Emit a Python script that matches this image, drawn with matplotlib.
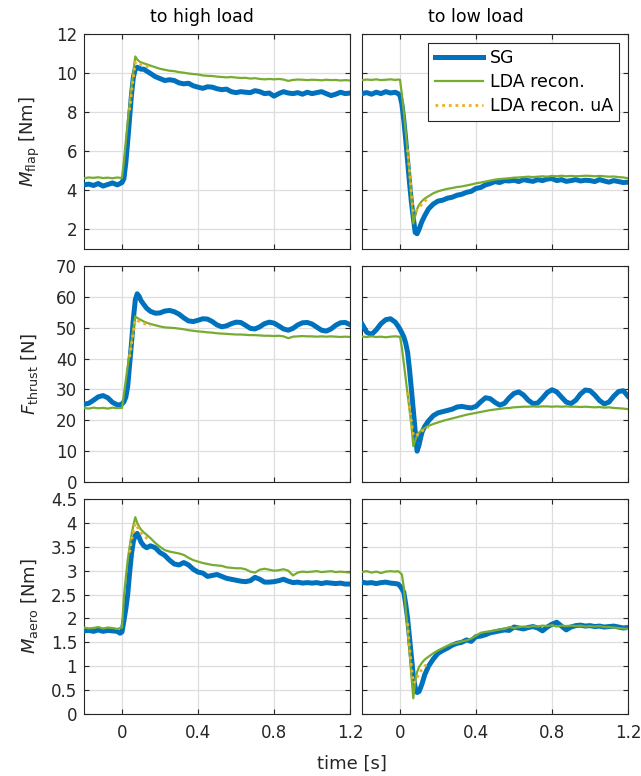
import matplotlib
matplotlib.use("Agg")
import matplotlib.pyplot as plt
from matplotlib.lines import Line2D

plt.rcParams['font.family'] = ['DejaVu Sans']
plt.rcParams['mathtext.fontset'] = 'dejavusans'

# ---------------------------------------------------------------- time base [s]
t = [-0.2, -0.175, -0.15, -0.125, -0.1, -0.075, -0.05, -0.025, -0.01, 0.0,
     0.01, 0.02, 0.03, 0.04, 0.05, 0.06, 0.07, 0.08, 0.09, 0.1,
     0.115, 0.13, 0.15,
     0.175, 0.2, 0.225, 0.25, 0.275, 0.3, 0.325, 0.35, 0.375, 0.4,
     0.425, 0.45, 0.475, 0.5, 0.525, 0.55, 0.575, 0.6, 0.625, 0.65,
     0.675, 0.7, 0.725, 0.75, 0.775, 0.8, 0.825, 0.85, 0.875, 0.9,
     0.925, 0.95, 0.975, 1.0, 1.025, 1.05, 1.075, 1.1, 1.125, 1.15, 1.175, 1.2]

# unsteady-aero reconstruction is only shown around the load step
t_ua = [0.04, 0.05, 0.06, 0.07, 0.08, 0.09, 0.1, 0.115, 0.13, 0.15]

# ---------------------------------------------------------------- flap moment [Nm]
mflap_hi_sg = [4.28, 4.32, 4.25, 4.35, 4.22, 4.30, 4.38, 4.28, 4.35, 4.40,
               4.6, 5.4, 6.5, 7.7, 8.9, 9.8, 10.2, 10.3, 10.25, 10.2,
               10.2, 10.1, 9.98,
               9.82, 9.72, 9.62, 9.66, 9.62, 9.5, 9.45, 9.48, 9.35, 9.28,
               9.22, 9.3, 9.28, 9.2, 9.15, 9.18, 9.05, 9.0, 9.05, 9.02,
               9.0, 9.1, 9.05, 8.95, 8.98, 8.82, 8.95, 9.05, 8.98, 8.95,
               9.0, 8.92, 9.02, 8.95, 9.0, 9.05, 8.95, 8.85, 8.92, 9.02, 8.95, 8.98]
mflap_hi_lda = [4.62, 4.66, 4.64, 4.67, 4.63, 4.65, 4.62, 4.66, 4.64, 4.65,
                5.5, 6.5, 7.5, 8.4, 9.3, 10.1, 10.85, 10.7, 10.6, 10.55,
                10.5, 10.45, 10.38,
                10.3, 10.22, 10.17, 10.12, 10.1, 10.05, 10.02, 9.98, 9.95, 9.93,
                9.88, 9.86, 9.85, 9.82, 9.8, 9.78, 9.8, 9.77, 9.75, 9.76,
                9.72, 9.74, 9.7, 9.68, 9.7, 9.68, 9.7, 9.67, 9.6, 9.65,
                9.67, 9.66, 9.64, 9.66, 9.65, 9.63, 9.66, 9.64, 9.65, 9.62, 9.64, 9.62]
mflap_hi_ua = [8.1, 9.0, 9.8, 10.55, 10.58, 10.5, 10.44, 10.38, 10.34, 10.3]

mflap_lo_sg = [8.95, 9.0, 8.92, 9.02, 8.95, 9.05, 8.98, 9.02, 8.95, 8.85,
               8.4, 7.6, 6.6, 5.5, 4.4, 3.4, 2.6, 1.85, 1.78, 2.0,
               2.4, 2.7, 3.05,
               3.3, 3.45, 3.5, 3.6, 3.65, 3.75, 3.8, 3.9, 3.95, 4.1,
               4.15, 4.28, 4.35, 4.45, 4.4, 4.5, 4.48, 4.52, 4.45, 4.55,
               4.5, 4.46, 4.55, 4.5, 4.58, 4.6, 4.5, 4.55, 4.46, 4.5,
               4.55, 4.48, 4.52, 4.5, 4.45, 4.55, 4.48, 4.42, 4.5, 4.45, 4.4, 4.42]
mflap_lo_lda = [9.64, 9.67, 9.65, 9.68, 9.64, 9.66, 9.68, 9.65, 9.67, 9.66,
                8.9, 8.0, 7.0, 6.0, 4.9, 3.6, 2.3, 2.7, 3.05, 3.25,
                3.45, 3.58, 3.7,
                3.85, 3.95, 4.02, 4.08, 4.12, 4.17, 4.2, 4.25, 4.3, 4.36,
                4.4, 4.45, 4.5, 4.55, 4.58, 4.6, 4.62, 4.65, 4.66, 4.68,
                4.7, 4.68, 4.7, 4.72, 4.7, 4.74, 4.72, 4.75, 4.72, 4.74,
                4.72, 4.73, 4.75, 4.74, 4.72, 4.74, 4.72, 4.7, 4.71, 4.68, 4.66, 4.62]
mflap_lo_ua = [6.1, 5.0, 3.9, 2.85, 2.9, 3.0, 3.1, 3.3, 3.45, 3.6]

# ---------------------------------------------------------------- thrust [N]
fthr_hi_sg = [25.2, 25.5, 26.5, 27.6, 28.0, 27.3, 25.8, 25.0, 25.0, 25.3,
              26.0, 27.5, 31.0, 38.0, 45.0, 53.0, 59.0, 61.0, 60.2, 58.8,
              57.5, 56.3, 55.3,
              54.7, 54.8, 55.4, 55.6, 55.2, 54.4, 53.2, 52.2, 52.0, 52.4,
              52.9, 52.8, 52.0, 50.9, 50.3, 50.6, 51.3, 51.8, 51.7, 50.8,
              49.8, 49.6, 50.3, 51.3, 51.8, 51.5, 50.6, 49.6, 49.2, 49.8,
              50.9, 51.6, 51.7, 51.2, 50.2, 49.2, 48.9, 49.6, 50.8, 51.6, 51.7, 51.0]
fthr_hi_lda = [24.0, 23.8, 24.1, 23.9, 24.0, 23.8, 24.1, 23.9, 24.0, 24.0,
               28.5, 33.0, 37.5, 41.5, 45.5, 49.8, 53.6, 53.2, 52.8, 52.5,
               52.0, 51.6, 51.2,
               50.8, 50.4, 50.1, 50.0, 49.9, 49.7, 49.5, 49.2, 49.0, 48.8,
               48.7, 48.5, 48.4, 48.2, 48.1, 48.0, 47.9, 47.8, 47.8, 47.7,
               47.6, 47.6, 47.5, 47.4, 47.4, 47.3, 47.4, 47.2, 46.6, 47.1,
               47.2, 47.3, 47.2, 47.2, 47.1, 47.2, 47.1, 47.2, 47.1, 47.0, 47.1, 47.0]
fthr_hi_ua = [40.5, 44.5, 48.8, 52.6, 52.4, 52.1, 51.8, 51.4, 51.0, 50.7]

fthr_lo_sg = [51.2, 48.5, 47.8, 49.3, 51.3, 52.6, 52.9, 51.8, 50.5, 49.5,
              48.3, 47.0, 45.0, 42.0, 36.5, 30.0, 23.3, 16.5, 10.0, 12.0,
              16.0, 18.0, 19.8,
              21.5, 22.4, 22.8, 23.2, 23.6, 24.3, 24.5, 24.2, 24.0, 24.5,
              26.0, 27.3, 27.0, 25.8, 24.9, 25.5, 27.3, 28.7, 29.2, 28.2,
              26.5, 25.4, 25.6, 27.2, 29.0, 29.9, 29.2, 27.5, 25.9, 25.4,
              26.5, 28.5, 29.8, 29.6, 28.2, 26.4, 25.3, 25.9, 27.8, 29.3, 29.6, 27.8]
fthr_lo_lda = [47.1, 47.0, 47.2, 47.0, 47.1, 46.9, 47.1, 47.2, 47.1, 47.1,
               43.5, 38.5, 33.5, 28.5, 23.5, 18.5, 11.6, 13.5, 15.0, 16.0,
               16.8, 17.5, 18.2,
               18.8, 19.3, 19.8, 20.2, 20.6, 21.0, 21.4, 21.8, 22.1, 22.4,
               22.7, 23.0, 23.3, 23.5, 23.7, 23.9, 24.0, 24.2, 24.3, 24.4,
               24.4, 24.5, 24.4, 24.5, 24.5, 24.4, 24.5, 24.4, 24.5, 24.4,
               24.4, 24.3, 24.4, 24.3, 24.2, 24.3, 24.1, 24.2, 24.0, 23.9, 23.8, 23.6]
fthr_lo_ua = [29.0, 24.0, 19.5, 15.2, 14.8, 15.3, 15.8, 16.5, 17.1, 17.8]

# ---------------------------------------------------------------- aerodynamic moment [Nm]
maero_hi_sg = [1.74, 1.75, 1.73, 1.76, 1.73, 1.75, 1.74, 1.73, 1.69, 1.72,
               1.95, 2.2, 2.5, 2.95, 3.35, 3.62, 3.74, 3.78, 3.7, 3.6,
               3.52, 3.48, 3.52,
               3.48, 3.38, 3.32, 3.22, 3.14, 3.12, 3.17, 3.12, 3.03, 2.97,
               2.95, 2.88, 2.9, 2.92, 2.88, 2.84, 2.82, 2.8, 2.78, 2.77,
               2.79, 2.86, 2.82, 2.76, 2.76, 2.77, 2.79, 2.82, 2.78, 2.75,
               2.76, 2.74, 2.75, 2.74, 2.75, 2.73, 2.75, 2.74, 2.73, 2.74, 2.72, 2.72]
maero_hi_lda = [1.81, 1.79, 1.8, 1.82, 1.79, 1.81, 1.8, 1.78, 1.8, 1.81,
                2.45, 2.85, 3.22, 3.5, 3.75, 3.95, 4.12, 4.0, 3.92, 3.86,
                3.8, 3.75, 3.68,
                3.58, 3.5, 3.43, 3.4, 3.38, 3.36, 3.33, 3.27, 3.22, 3.19,
                3.16, 3.14, 3.12, 3.11, 3.1, 3.07, 3.06, 3.05, 3.05, 3.03,
                2.98, 2.96, 3.02, 3.04, 3.02, 3.0, 3.01, 3.03, 3.0, 2.9,
                2.96, 2.98, 2.97, 2.98, 2.99, 2.97, 2.98, 2.99, 2.97, 2.98, 2.97, 2.96]
maero_hi_ua = [3.38, 3.64, 3.82, 3.99, 3.92, 3.85, 3.79, 3.73, 3.68, 3.63]

maero_lo_sg = [2.76, 2.74, 2.75, 2.73, 2.75, 2.76, 2.74, 2.73, 2.72, 2.68,
               2.62, 2.55, 2.3, 2.0, 1.6, 1.2, 0.8, 0.55, 0.45, 0.47,
               0.62, 0.82, 1.0,
               1.15, 1.27, 1.33, 1.38, 1.44, 1.48, 1.5, 1.55, 1.52, 1.62,
               1.63, 1.66, 1.7, 1.72, 1.74, 1.76, 1.75, 1.82, 1.8, 1.78,
               1.81, 1.83, 1.8, 1.74, 1.82, 1.88, 1.92, 1.84, 1.76, 1.82,
               1.85, 1.86, 1.84, 1.85, 1.83, 1.84, 1.82, 1.83, 1.84, 1.82, 1.8, 1.81]
maero_lo_lda = [2.97, 2.99, 2.96, 2.98, 2.95, 2.98, 2.99, 2.98, 2.99, 2.96,
                2.92, 2.65, 2.2, 1.8, 1.3, 0.8, 0.33, 0.7, 0.88, 0.98,
                1.07, 1.14, 1.2,
                1.27, 1.33, 1.38, 1.43, 1.47, 1.49, 1.52, 1.54, 1.58, 1.64,
                1.7, 1.72, 1.73, 1.75, 1.77, 1.78, 1.82, 1.8, 1.82, 1.83,
                1.82, 1.84, 1.83, 1.85, 1.84, 1.86, 1.83, 1.85, 1.84, 1.85,
                1.84, 1.85, 1.83, 1.84, 1.83, 1.84, 1.82, 1.82, 1.81, 1.8, 1.79, 1.78]
maero_lo_ua = [1.9, 1.4, 1.0, 0.65, 0.68, 0.76, 0.84, 0.93, 1.0, 1.08]

# ---------------------------------------------------------------- labels / limits
col_titles = ["to high load", "to low load"]
row_labels = [r"$M_{\mathrm{flap}}$ [Nm]", r"$F_{\mathrm{thrust}}$ [N]",
              r"$M_{\mathrm{aero}}$ [Nm]"]
row_ylim = [(1, 12), (0, 70), (0, 4.5)]
row_yticks = [[2, 4, 6, 8, 10, 12],
              [0, 10, 20, 30, 40, 50, 60, 70],
              [0, 0.5, 1, 1.5, 2, 2.5, 3, 3.5, 4, 4.5]]
row_yticklabels = [["2", "4", "6", "8", "10", "12"],
                   ["0", "10", "20", "30", "40", "50", "60", "70"],
                   ["0", "0.5", "1", "1.5", "2", "2.5", "3", "3.5", "4", "4.5"]]
xticks = [0, 0.4, 0.8, 1.2]
xticklabels = ["0", "0.4", "0.8", "1.2"]
legend_labels = ["SG", "LDA recon.", "LDA recon. uA"]

panels = [
    [(mflap_hi_sg, mflap_hi_lda, mflap_hi_ua), (mflap_lo_sg, mflap_lo_lda, mflap_lo_ua)],
    [(fthr_hi_sg, fthr_hi_lda, fthr_hi_ua), (fthr_lo_sg, fthr_lo_lda, fthr_lo_ua)],
    [(maero_hi_sg, maero_hi_lda, maero_hi_ua), (maero_lo_sg, maero_lo_lda, maero_lo_ua)],
]

# ---------------------------------------------------------------- style
C_SG = "#0072BD"
C_LDA = "#77AC30"
C_UA = "#EDB120"
AX_COL = "#262626"
GRID_COL = "#dedede"
UA_DASH = (0, (1.0, 1.4))

W, H = 641, 776
fig = plt.figure(figsize=(W / 100, H / 100), dpi=100)

col_px = [(84, 350), (362, 628)]
row_px = [(34, 249), (266, 482), (499, 714)]

axes = []
for r in range(3):
    for c in range(2):
        x0, x1 = col_px[c]
        y0, y1 = row_px[r]
        ax = fig.add_axes([x0 / W, 1 - y1 / H, (x1 - x0) / W, (y1 - y0) / H])
        sg, lda, ua = panels[r][c]
        ax.plot(t, sg, color=C_SG, lw=3.6, solid_joinstyle="round", zorder=3)
        ax.plot(t, lda, color=C_LDA, lw=1.6, zorder=4)
        ax.plot(t_ua, ua, color=C_UA, lw=2.0, linestyle=UA_DASH,
                dash_capstyle="butt", zorder=5)

        ax.set_xlim(-0.2, 1.2)
        ax.set_ylim(*row_ylim[r])
        ax.set_xticks(xticks)
        ax.set_yticks(row_yticks[r])
        if r == 2:
            ax.set_xticklabels(xticklabels)
        else:
            ax.set_xticklabels([])
        if c == 0:
            ax.set_yticklabels(row_yticklabels[r])
        else:
            ax.set_yticklabels([])
        ax.grid(True, color=GRID_COL, lw=0.9)
        ax.set_axisbelow(True)
        ax.tick_params(direction="in", length=3.5, width=0.8, colors=AX_COL,
                       labelsize=12, top=True, right=True, pad=5)
        ax.tick_params(axis="x", pad=7)
        for s in ax.spines.values():
            s.set_color(AX_COL)
            s.set_linewidth(0.8)
        axes.append(ax)

# column titles
fig.text(201.5 / W, 1 - 22.5 / H, col_titles[0], ha="center", va="baseline",
         fontsize=12.5, color="black")
fig.text(476 / W, 1 - 22.5 / H, col_titles[1], ha="center", va="baseline",
         fontsize=12.5, color="black")

# row labels
for r in range(3):
    yc = (row_px[r][0] + row_px[r][1]) / 2
    fig.text(30 / W, 1 - yc / H, row_labels[r], rotation=90, ha="center",
             va="center", fontsize=13, color=AX_COL)

# common x label
fig.text(352 / W, 1 - 764 / H, "time [s]", ha="center", va="center",
         fontsize=13, color=AX_COL)

# legend in the top-right panel
handles = [Line2D([], [], color=C_SG, lw=3.6),
           Line2D([], [], color=C_LDA, lw=1.6),
           Line2D([], [], color=C_UA, lw=2.0, linestyle=UA_DASH)]
leg = axes[1].legend(handles, legend_labels, loc="upper right", fontsize=12.5,
                     frameon=True, fancybox=False, framealpha=1,
                     edgecolor=AX_COL, handlelength=2.8, handletextpad=0.4,
                     labelspacing=0.35, borderpad=0.35, borderaxespad=0.5)
leg.get_frame().set_linewidth(0.8)

fig.savefig("out.png", dpi=100)
